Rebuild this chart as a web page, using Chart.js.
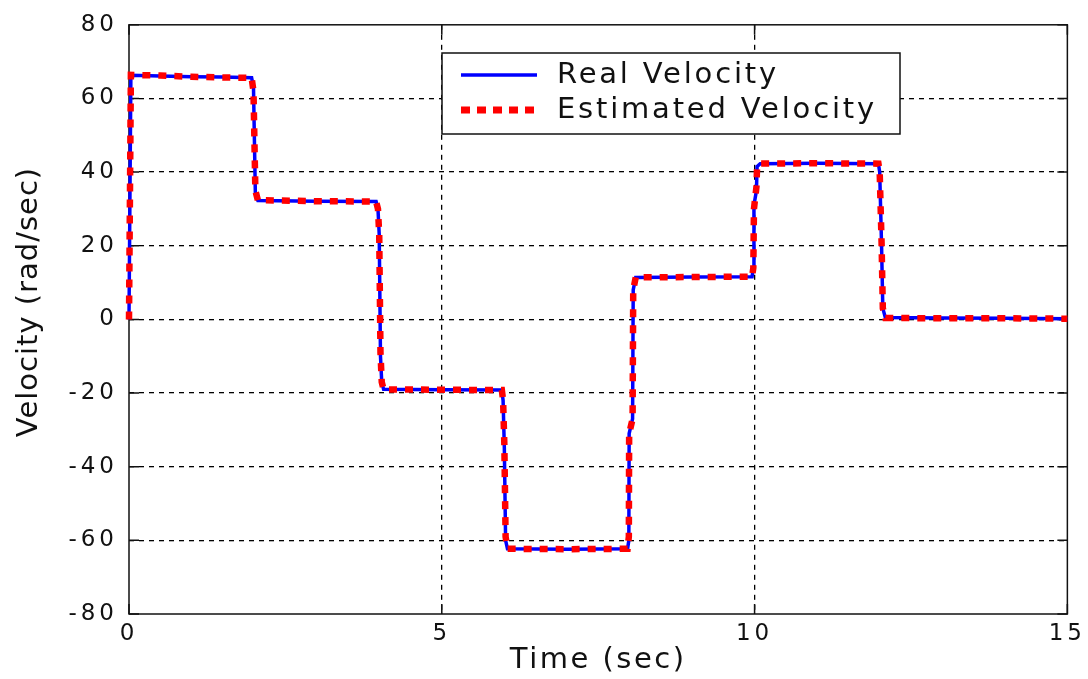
<!DOCTYPE html>
<html>
<head>
<meta charset="utf-8">
<script src="https://cdn.jsdelivr.net/npm/chart.js@4.4.1/dist/chart.umd.min.js"></script>
<style>
  html, body { margin: 0; padding: 0; background: #fff; }
  #wrap { width: 1088px; height: 679px; }
</style>
</head>
<body>
<div id="wrap"><canvas id="velocityChart" width="1088" height="679"></canvas></div>
<script>
// sample times (s) and the two velocity traces (rad/sec)
const timeSec = [
  0, 0.03, 0.5, 1.0, 1.5, 1.96,
  1.99, 2.02, 2.06, 3.0, 3.95,
  3.98, 4.0, 4.02, 4.04, 4.07, 5.0, 5.96,
  5.98, 6.0, 6.02, 6.05, 7.0, 7.97,
  7.99, 7.995, 8.05, 8.06, 8.10, 9.0, 9.96,
  9.98, 9.99, 10.03, 10.04, 10.09, 11.0, 11.98,
  12.0, 12.03, 12.05, 12.09, 13.0, 14.0, 15.0
];
const realVelocity = [
  0, 66.3, 66.1, 65.9, 65.8, 65.6,
  63, 34, 32.3, 32.1, 32.0,
  30, 23, -10, -17, -19.0, -19.1, -19.2,
  -22, -35, -60, -62.3, -62.4, -62.3,
  -60, -31, -27, 8, 11.4, 11.5, 11.6,
  14, 31, 35, 41.5, 42.3, 42.4, 42.3,
  40, 20, 3, 0.5, 0.4, 0.3, 0.2
];
const estimatedVelocity = [
  0, 66.4, 66.2, 65.9, 65.7, 65.6,
  62, 35, 32.4, 32.1, 32.0,
  30, 23, -9, -17, -19.0, -19.1, -19.2,
  -22, -34, -59, -62.3, -62.4, -62.3,
  -59, -31, -27, 8, 11.4, 11.5, 11.6,
  14, 30, 36, 41.5, 42.3, 42.4, 42.3,
  40, 21, 3, 0.4, 0.3, 0.3, 0.2
];
const seriesLabels = ['Real Velocity', 'Estimated Velocity'];
const xTitle = 'Time (sec)';
const yTitle = 'Velocity (rad/sec)';
const xTicks = { min: 0, max: 15, step: 5 };
const yTicks = { min: -80, max: 80, step: 20 };

const ink = '#111';
const font = 'DejaVu Sans';

function toPoints(values) {
  return timeSec.map((t, i) => ({ x: t, y: values[i] }));
}

// frame, inward ticks, axis titles and the boxed legend
const framePlugin = {
  id: 'frame',
  beforeDraw(chart) {
    chart.ctx.letterSpacing = '4px';
  },
  beforeDatasetsDraw(chart) {
    const { ctx, chartArea: a, scales } = chart;
    ctx.save();
    ctx.strokeStyle = ink;
    ctx.lineWidth = 1.5;
    ctx.setLineDash([]);
    ctx.strokeRect(a.left, a.top, a.right - a.left, a.bottom - a.top);
    ctx.beginPath();
    scales.y.ticks.forEach((t) => {
      const y = scales.y.getPixelForValue(t.value);
      ctx.moveTo(a.left, y); ctx.lineTo(a.left + 10, y);
      ctx.moveTo(a.right, y); ctx.lineTo(a.right - 10, y);
    });
    scales.x.ticks.forEach((t) => {
      const x = scales.x.getPixelForValue(t.value);
      ctx.moveTo(x, a.bottom); ctx.lineTo(x, a.bottom - 10);
      ctx.moveTo(x, a.top); ctx.lineTo(x, a.top + 10);
    });
    ctx.stroke();
    ctx.restore();
  },
  afterDraw(chart) {
    const { ctx, chartArea: a } = chart;
    ctx.save();
    ctx.fillStyle = ink;
    ctx.textBaseline = 'middle';

    // axis titles
    ctx.font = `29px "${font}"`;
    ctx.letterSpacing = '2.5px';
    ctx.textAlign = 'center';
    ctx.fillText(xTitle, (a.left + a.right) / 2, 660);
    ctx.save();
    ctx.translate(29, 302);
    ctx.rotate(-Math.PI / 2);
    ctx.letterSpacing = '1px';
    ctx.fillText(yTitle, 0, 0);
    ctx.restore();

    // legend box
    const box = { left: 442, top: 53, right: 900, bottom: 134 };
    ctx.fillStyle = '#fff';
    ctx.fillRect(box.left, box.top, box.right - box.left, box.bottom - box.top);
    ctx.strokeStyle = ink;
    ctx.lineWidth = 1.5;
    ctx.setLineDash([]);
    ctx.strokeRect(box.left, box.top, box.right - box.left, box.bottom - box.top);

    const rows = [75, 110];
    chart.data.datasets.forEach((ds, i) => {
      const y = rows[i];
      ctx.beginPath();
      ctx.strokeStyle = ds.borderColor;
      ctx.lineWidth = i === 0 ? 3.5 : 7;
      ctx.setLineDash(i === 0 ? [] : [9, 7]);
      ctx.moveTo(461, y);
      ctx.lineTo(537, y);
      ctx.stroke();
      ctx.fillStyle = ink;
      ctx.textAlign = 'left';
      ctx.font = `29px "${font}"`;
      ctx.letterSpacing = '2.8px';
      ctx.fillText(ds.label, 557, y);
    });
    ctx.restore();
  }
};

const gridColor = (edgeA, edgeB) => (c) =>
  (c.tick && (c.tick.value === edgeA || c.tick.value === edgeB)) ? 'rgba(0,0,0,0)' : '#000';

new Chart(document.getElementById('velocityChart'), {
  type: 'line',
  data: {
    datasets: [
      {
        label: seriesLabels[0],
        data: toPoints(realVelocity),
        borderColor: '#0000ff',
        borderWidth: 3.5,
        pointRadius: 0,
        tension: 0,
        clip: 10,
        order: 1
      },
      {
        label: seriesLabels[1],
        data: toPoints(estimatedVelocity),
        borderColor: '#ff0000',
        borderWidth: 6.5,
        borderDash: [8, 8],
        borderCapStyle: 'butt',
        pointRadius: 0,
        tension: 0,
        clip: 10,
        order: 0
      }
    ]
  },
  options: {
    responsive: false,
    devicePixelRatio: 1,
    animation: false,
    layout: { padding: { top: 24, right: 18, left: 0, bottom: 0 } },
    plugins: { legend: { display: false }, tooltip: { enabled: false } },
    scales: {
      x: {
        type: 'linear',
        min: xTicks.min,
        max: xTicks.max,
        ticks: { stepSize: xTicks.step, padding: 6, color: ink, font: { family: font, size: 23 }, maxRotation: 0 },
        grid: { color: gridColor(xTicks.min, xTicks.max), lineWidth: 1.3, drawTicks: false },
        border: { display: false, dash: [5, 5] },
        afterFit(scale) { scale.height = 65; }
      },
      y: {
        min: yTicks.min,
        max: yTicks.max,
        ticks: { stepSize: yTicks.step, padding: 11, color: ink, font: { family: font, size: 23 } },
        grid: { color: gridColor(yTicks.min, yTicks.max), lineWidth: 1.3, drawTicks: false },
        border: { display: false, dash: [5, 5] },
        afterFit(scale) { scale.width = 129; }
      }
    }
  },
  plugins: [framePlugin]
});
</script>
</body>
</html>
